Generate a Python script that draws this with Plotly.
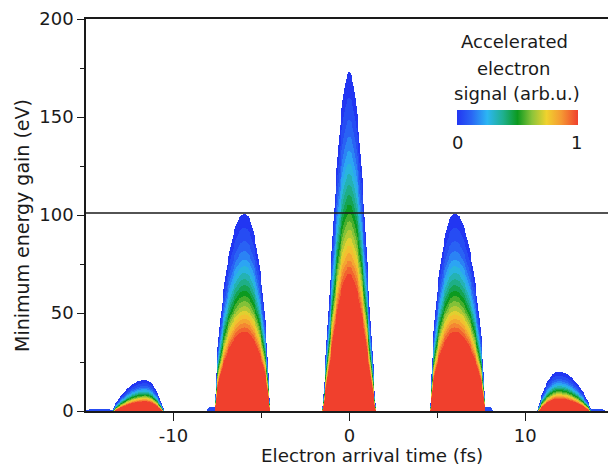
import numpy as np
import plotly.graph_objects as go

# ---- data ----
# main lobes (arrival time fs, peak energy eV, half widths left/right fs)
peak_center = [-11.6, -5.95, 0.0, 6.0, 11.9]
peak_height = [15.8, 100.9, 172.6, 100.9, 20.0]
peak_half_left = [1.9, 1.68, 1.55, 1.38, 1.2]
peak_half_right = [1.05, 1.42, 1.55, 1.72, 1.9]
peak_shape = [0.8, 0.6, 1.2, 0.6, 0.8]
peak_red_ratio = [0.37, 0.40, 0.40, 0.40, 0.36]
peak_band_exp = [1.9, 1.7, 1.7, 1.7, 1.9]

# faint low feet along the baseline
foot_center = [-14.2, -7.8, 7.9, 14.1]
foot_height = [1.3, 2.5, 2.5, 1.5]
foot_half = [1.0, 0.3, 0.3, 0.45]
foot_level = [0.04, 0.06, 0.06, 0.05]

threshold_energy = 101.0
x_ticks = [-10, 0, 10]
x_minor = [-5, 5]
y_ticks = [0, 50, 100, 150, 200]
y_minor = [25, 75, 125, 175]

# ---- build the 2D map ----
t = np.linspace(-15.0, 14.7, 620)
E = np.arange(0.0, 176.0, 0.5)
T, EE = np.meshgrid(t, E)
field = np.full(T.shape, np.nan)
E0 = 1.5

for c, H, wl, wr, q, rc, m in zip(peak_center, peak_height, peak_half_left,
                                  peak_half_right, peak_shape, peak_red_ratio,
                                  peak_band_exp):
    w = np.where(T < c, wl, wr)
    u = (T - c) / w
    inside = np.abs(u) < 1
    h = np.where(inside, H * np.clip(np.cos(np.pi / 2 * u), 0, 1) ** q, 0.0)
    r = (EE + E0) / (h + E0)
    f = np.clip((1 - r) / (1 - rc), 0, 1) ** m
    mask = inside & (EE <= h)
    f = np.where(mask, f, np.nan)
    field = np.fmax(field, f)

for c, H, w, lv in zip(foot_center, foot_height, foot_half, foot_level):
    u = (T - c) / w
    inside = np.abs(u) < 1
    h = np.where(inside, H * np.clip(np.cos(np.pi / 2 * u), 0, 1) ** 0.5, 0.0)
    mask = inside & (EE <= h)
    f = np.where(mask, lv, np.nan)
    field = np.fmax(field, f)

levels = 18
field = np.where(np.isnan(field), np.nan, np.round(field * levels) / levels)
field = field.astype(np.float32)

colorscale = [
    [0.00, "#2236f2"],
    [0.12, "#2a66f4"],
    [0.25, "#2cb6f3"],
    [0.38, "#1fb08f"],
    [0.50, "#0c9a1f"],
    [0.62, "#8cc43a"],
    [0.74, "#f0d22e"],
    [0.86, "#f59a33"],
    [1.00, "#f0402d"],
]

# ---- layout helpers (pixel -> paper) ----
L, R, TOP, BOT = 86, 608, 19, 411
def px(x):
    return (x - L) / (R - L)
def py(y):
    return (BOT - y) / (BOT - TOP)

FONT = "DejaVu Sans"
INK = "#1a1a1a"

fig = go.Figure()
fig.add_trace(go.Heatmap(
    x=t, y=E, z=field, zmin=0, zmax=1, zsmooth=False,
    colorscale=colorscale, hoverinfo="skip",
    colorbar=dict(
        orientation="h", x=px(457), xanchor="left", y=py(125), yanchor="bottom",
        len=121, lenmode="pixels", thickness=15, thicknessmode="pixels",
        xpad=0, ypad=0, outlinewidth=0, showticklabels=False, ticks="",
    ),
))

fig.add_shape(type="line", xref="paper", yref="y", x0=0, x1=1,
              y0=threshold_energy, y1=threshold_energy,
              line=dict(color=INK, width=1.6))

ann = []
def text(s, x, y, size=18, angle=0):
    ann.append(dict(text=s, x=px(x), y=py(y), xref="paper", yref="paper",
                    showarrow=False, xanchor="center", yanchor="middle",
                    textangle=angle, font=dict(family=FONT, size=size, color=INK)))

text("Electron arrival time (fs)", 372, 455, size=18.3)
text("Minimum energy gain (eV)", 22, 226, size=19, angle=-90)
text("Accelerated", 514, 42)
text("electron", 514, 68)
text("signal (arb.u.)", 517, 93)
text("0", 457, 142)
text("1", 576, 142)

fig.update_layout(
    width=608, height=470,
    margin=dict(l=L, r=608 - R, t=TOP, b=470 - BOT),
    paper_bgcolor="white", plot_bgcolor="white",
    font=dict(family=FONT, size=18, color=INK),
    annotations=ann,
    xaxis=dict(range=[-14.97, 14.7], showgrid=False, zeroline=False,
               showline=True, linecolor=INK, linewidth=1.5, mirror=True,
               ticks="outside", ticklen=8, tickwidth=1.3, tickcolor=INK,
               tickvals=x_ticks, ticktext=[str(v) for v in x_ticks],
               minor=dict(tickvals=x_minor, ticks="outside", ticklen=5,
                          tickwidth=1.2, tickcolor=INK),
               tickfont=dict(size=18)),
    yaxis=dict(range=[0, 200], showgrid=False, zeroline=False,
               showline=True, linecolor=INK, linewidth=1.5,
               ticks="outside", ticklen=7, tickwidth=1.3, tickcolor=INK,
               tickvals=y_ticks, ticktext=[str(v) for v in y_ticks],
               minor=dict(tickvals=y_minor, ticks="outside", ticklen=4,
                          tickwidth=1.2, tickcolor=INK),
               tickfont=dict(size=18)),
    showlegend=False,
)

fig.write_html("out.html")
